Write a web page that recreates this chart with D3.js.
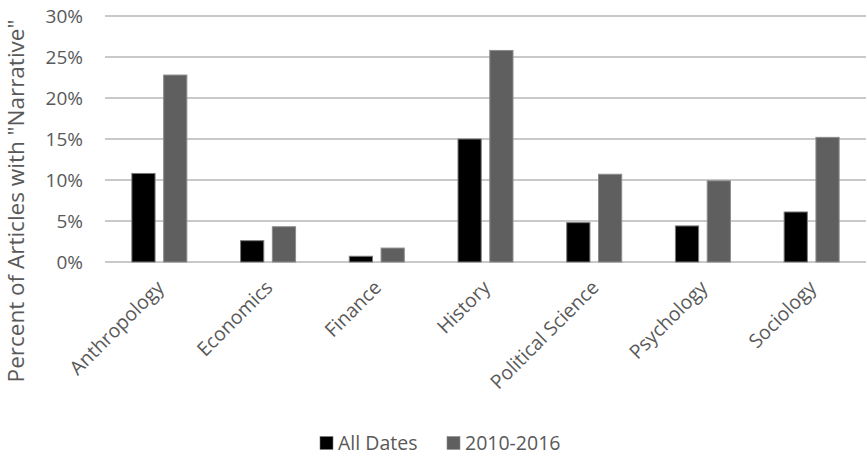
<!DOCTYPE html>
<html>
<head>
<meta charset="utf-8">
<script src="https://cdn.jsdelivr.net/npm/d3@7"></script>
<style>
  html, body { margin: 0; padding: 0; background: #fff; }
  svg text { font-family: "Open Sans", "DejaVu Sans", sans-serif; fill: #595959; }
</style>
</head>
<body>
<svg id="chart" width="867" height="456"></svg>
<script>
// Share of articles mentioning "Narrative", by discipline
const disciplines = ["Anthropology", "Economics", "Finance", "History", "Political Science", "Psychology", "Sociology"];
const allDates = [0.108, 0.026, 0.007, 0.150, 0.048, 0.044, 0.061];
const recent = [0.228, 0.043, 0.017, 0.258, 0.107, 0.099, 0.152];
const seriesNames = ["All Dates", "2010-2016"];
const seriesColors = ["#000000", "#5f5f5f"];
const seriesStrokes = ["#7a7a7a", "#8c8c8c"];
const yTicks = [0, 0.05, 0.10, 0.15, 0.20, 0.25, 0.30];

const svg = d3.select("#chart");
const margin = { left: 105, right: 1, top: 16, bottom: 194 };
const W = 867, H = 456;

const x = d3.scaleBand().domain(disciplines).range([margin.left, W - margin.right]);
const x1 = d3.scaleBand().domain(seriesNames).range([0, 55]).paddingInner(0.27);
const y = d3.scaleLinear().domain([0, 0.30]).range([H - margin.bottom, margin.top]);

// Horizontal gridlines
svg.append("g")
  .selectAll("line")
  .data(yTicks)
  .join("line")
  .attr("x1", margin.left)
  .attr("x2", W - margin.right)
  .attr("y1", d => y(d))
  .attr("y2", d => y(d))
  .attr("stroke", "#c9c9c9")
  .attr("stroke-width", 1.8);

// Y axis tick labels
const yAxis = d3.axisLeft(y).tickValues(yTicks).tickFormat(d3.format(".0%")).tickSize(0).tickPadding(0);
const gy = svg.append("g").attr("transform", `translate(${margin.left - 22},0)`).call(yAxis);
gy.select(".domain").remove();
gy.selectAll("text")
  .attr("font-size", 19)
  .attr("font-family", "Open Sans")
  .attr("fill", "#595959")
  .attr("dy", "0.34em");

// Bars
const series = [allDates, recent];
const groups = svg.append("g")
  .selectAll("g")
  .data(disciplines)
  .join("g")
  .attr("transform", d => `translate(${x(d) + x.bandwidth() / 2 - 27.5},0)`);

groups.selectAll("rect")
  .data((d, i) => seriesNames.map((s, k) => ({ s, k, v: series[k][i] })))
  .join("rect")
  .attr("x", d => x1(d.s))
  .attr("width", x1.bandwidth())
  .attr("y", d => y(d.v))
  .attr("height", d => y(0) - y(d.v))
  .attr("fill", d => seriesColors[d.k])
  .attr("stroke", d => seriesStrokes[d.k])
  .attr("stroke-width", 1);

// Category labels, slanted
svg.append("g")
  .selectAll("text")
  .data(disciplines)
  .join("text")
  .attr("transform", d => `translate(${x(d) + x.bandwidth() / 2 + 1},${284}) rotate(-45)`)
  .attr("text-anchor", "end")
  .attr("dy", "0.35em")
  .attr("font-size", 19.5)
  .text(d => d);

// Y axis title
svg.append("text")
  .attr("transform", `translate(24,${201}) rotate(-90)`)
  .attr("text-anchor", "middle")
  .attr("font-size", 22.5)
  .text('Percent of Articles with "Narrative"');

// Legend
const legend = svg.append("g").attr("transform", "translate(0,443)");
const legendItems = [{ name: seriesNames[0], x: 320 }, { name: seriesNames[1], x: 447 }];
legendItems.forEach((it, k) => {
  legend.append("rect")
    .attr("x", it.x).attr("y", -6.5).attr("width", 13).attr("height", 13)
    .attr("fill", seriesColors[k]).attr("stroke", seriesStrokes[k]).attr("stroke-width", 0.6);
  legend.append("text")
    .attr("x", it.x + 18).attr("y", 0).attr("dy", "0.36em")
    .attr("font-size", 19.5)
    .text(it.name);
});
</script>
</body>
</html>
